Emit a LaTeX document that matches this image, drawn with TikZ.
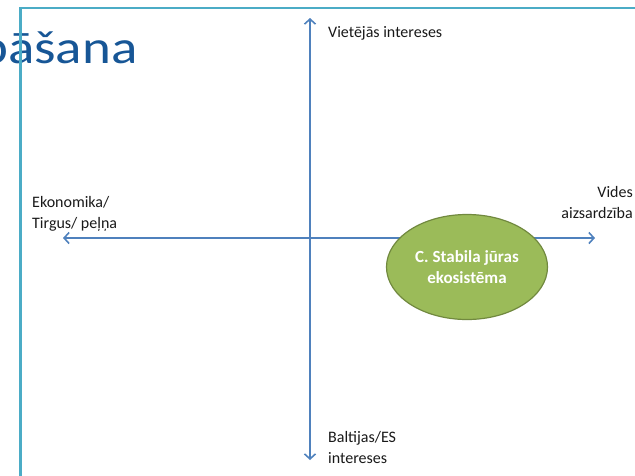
\documentclass[tikz,border=0pt]{standalone}
\usepackage{fontspec}
\setmainfont{Carlito}
\usetikzlibrary{arrows.meta,shapes.geometric,positioning}
\definecolor{axisblue}{RGB}{79,129,189}
\definecolor{framecyan}{RGB}{75,172,198}
\definecolor{titleblue}{RGB}{23,86,150}
\definecolor{goalgreen}{RGB}{155,187,89}
\definecolor{goalborder}{RGB}{113,137,63}

\begin{document}
\begin{tikzpicture}[x=1pt, y=-1pt,
    axis/.style={draw=axisblue, line width=2pt, -{Straight Barb[length=5pt,width=11pt,line width=1.6pt]}},
    label/.style={font=\fontsize{16}{21}\selectfont, text=black!90, inner sep=0pt},
    goal/.style={ellipse, draw=goalborder, line width=1.2pt, fill=goalgreen, minimum width=161pt, minimum height=105pt, text=white, font=\fontsize{17}{21}\selectfont\bfseries, align=center}
]
\useasboundingbox (0,0) rectangle (635,475);

\begin{scope}
\clip (0,0) rectangle (635,475);
% Virsraksts
\node[anchor=base west, inner sep=0pt, font=\fontsize{47}{50}\selectfont, text=titleblue] (title) at (-21,63) {\scalebox{1.17}[1]{pāšana}};
% Rāmis
\draw[framecyan, line width=2.5pt] (20.5,480) |- (640,7.8);
\end{scope}

% Asis
\coordinate (origin) at (310,238);
\coordinate (top) at (310,18);
\coordinate (bottom) at (310,460);
\coordinate (left) at (63,238);
\coordinate (right) at (595,238);

\draw[axis] (origin) -- (top);
\draw[axis] (origin) -- (bottom);
\draw[axis] (origin) -- (left);
\draw[axis] (origin) -- (right);

% Uzraksti
\node[label, anchor=base west] (locint) at (328,37) {Vietējās intereses};
\node[label, anchor=base west, align=left] (econ) at (32,228) {Ekonomika/\\Tirgus/ peļņa};
\node[label, anchor=base east, align=right] (envir) at (633,218) {Vides\\aizsardzība};
\node[label, anchor=base west, align=left] (baltint) at (328,463) {Baltijas/ES\\intereses};

% Mērķis
\node[goal] (ecosys) at (467,267) {C. Stabila jūras\\ekosistēma};
\end{tikzpicture}
\end{document}
